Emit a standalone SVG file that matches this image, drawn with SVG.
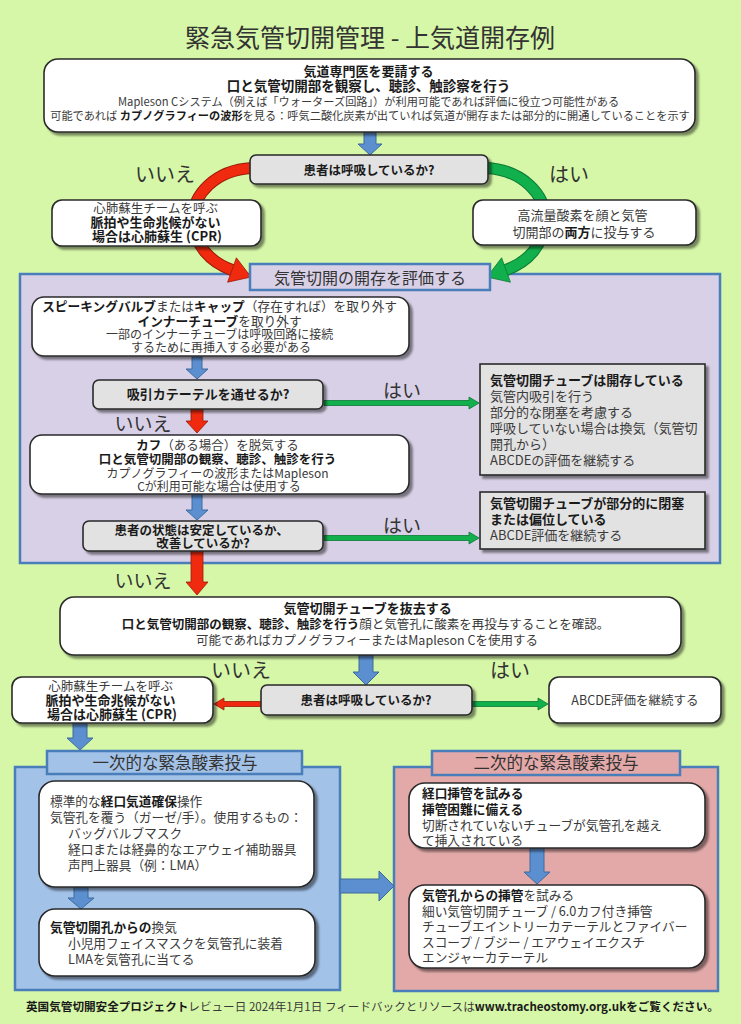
<svg xmlns="http://www.w3.org/2000/svg" width="741" height="1024" viewBox="0 0 741 1024">
<defs>
<filter id="sh" x="-10%" y="-10%" width="130%" height="140%">
<feDropShadow dx="3" dy="3" stdDeviation="1.2" flood-color="#000" flood-opacity="0.45"/>
</filter>
<style>
text{font-family:"Noto Sans CJK JP","Noto Sans",sans-serif;fill:#3a3a3a;font-size:12.7px}
.c{text-anchor:middle}
.b{font-weight:bold;fill:#1a1a1a}
.lbl{font-size:19px;fill:#333}
.box{fill:#fff;stroke:#2a2a2a;stroke-width:1.6;filter:url(#sh)}
.dec{fill:#e2e2e2;stroke:#2a2a2a;stroke-width:1.6;filter:url(#sh)}
.pur{fill:#d8d0e6;stroke:#4a7ebb;stroke-width:2.5}
.blu{fill:#a3c2e8;stroke:#4a7ebb;stroke-width:2.5}
.pnk{fill:#e3a9a9;stroke:#4a7ebb;stroke-width:2.5}
.ba{fill:#5b8fd0;stroke:#3d6a9e;stroke-width:1}
.ra{fill:#f02a0f;stroke:#9a1a08;stroke-width:0.8}
.ga{fill:#12b04c;stroke:#0a7a35;stroke-width:0.8}
</style>
</defs>
<rect x="0" y="0" width="741" height="1024" fill="#d6f7a8"/>
<text x="370" y="47" class="c" style="font-size:25px;fill:#333">緊急気管切開管理 - 上気道開存例</text>

<g id="containers">
<rect class="pur" x="20" y="274" width="700" height="289"/>
<rect class="blu" x="15" y="767" width="325" height="223"/>
<rect class="pnk" x="394" y="767" width="324" height="224"/>
</g>

<g id="connectors">
<polygon class="ba" points="364,132 376,132 376,144 382,144 370,155 358,144 364,144"/>
<path d="M 252 168 C 215 170, 192 195, 193 220 C 194 245, 210 262, 232 270" fill="none" stroke="#9a1a08" stroke-width="12"/>
<path d="M 252 168 C 215 170, 192 195, 193 220 C 194 245, 210 262, 232 270" fill="none" stroke="#f02a0f" stroke-width="10"/>
<polygon class="ra" points="227.6,282.2 236.4,257.8 251,277"/>
<path d="M 486 168 C 523 170, 546 195, 545 220 C 544 245, 528 262, 506 270" fill="none" stroke="#0a7a35" stroke-width="12"/>
<path d="M 486 168 C 523 170, 546 195, 545 220 C 544 245, 528 262, 506 270" fill="none" stroke="#12b04c" stroke-width="10"/>
<polygon class="ga" points="510.4,282.2 501.6,257.8 487,277"/>
<polygon class="ba" points="192,357 202,357 202,369 208,369 197,379 186,369 192,369"/>
<polygon class="ga" points="324,400.5 469,400.5 469,397 479,403 469,409 469,405.5 324,405.5"/>
<polygon class="ra" points="191,409 203,409 203,421 208,421 197,433 186,421 191,421"/>
<polygon class="ba" points="192,494 202,494 202,510 208,510 197,520 186,510 192,510"/>
<polygon class="ga" points="324,535.5 469,535.5 469,532 479,538 469,544 469,540.5 324,540.5"/>
<polygon class="ra" points="191,551 203,551 203,582 208,582 197,595 186,582 191,582"/>
<polygon class="ba" points="359,655 373,655 373,672 379,672 366,685 353,672 359,672"/>
<polygon class="ra" points="261,701.5 224,701.5 224,698 214,704 224,710 224,706.5 261,706.5"/>
<polygon class="ga" points="472,701.5 538,701.5 538,698 548,704 538,710 538,706.5 472,706.5"/>
<polygon class="ba" points="73,723 87,723 87,738 93,738 80,750 67,738 73,738"/>
<polygon class="ba" points="74,887 88,887 88,898 94,898 81,909 68,898 74,898"/>
<polygon class="ba" points="530,848 544,848 544,872 550,872 537,884 524,872 530,872"/>
<polygon class="ba" points="340,879 379,879 379,871 394,886 379,901 379,893 340,893"/>
<text x="165" y="182" class="c lbl" style="font-size:20px">いいえ</text>
<text x="569" y="182" class="c lbl" style="font-size:20px">はい</text>
<text x="402" y="398" class="c lbl">はい</text>
<text x="143" y="431" class="c lbl">いいえ</text>
<text x="402" y="533" class="c lbl">はい</text>
<text x="143" y="588" class="c lbl">いいえ</text>
<text x="241" y="678" class="c lbl" style="font-size:20px">いいえ</text>
<text x="510" y="678" class="c lbl" style="font-size:20px">はい</text>
</g>

<g id="n-top">
<rect class="box" x="44" y="59" width="651" height="73" rx="14"/>
<text class="c">
<tspan x="370" y="76" class="b" style="font-size:13px">気道専門医を要請する</tspan>
<tspan x="370" y="91" class="b" style="font-size:13.5px">口と気管切開部を観察し、聴診、触診察を行う</tspan>
<tspan x="370" y="106" style="font-size:11.2px">Mapleson Cシステム（例えば「ウォーターズ回路」）が利用可能であれば評価に役立つ可能性がある</tspan>
<tspan x="370" y="120" style="font-size:11.2px">可能であれば <tspan class="b">カプノグラフィーの波形</tspan>を見る：呼気二酸化炭素が出ていれば気道が開存または部分的に開通していることを示す</tspan>
</text>
</g>

<g id="n-breathing1">
<rect class="dec" x="250" y="155" width="238" height="29" rx="6"/>
<text x="369" y="175" class="c b" style="font-size:12.5px">患者は呼吸しているか?</text>
</g>

<g id="n-cpr1">
<rect class="box" x="52" y="200" width="209" height="46" rx="10"/>
<text class="c">
<tspan x="157" y="213" style="font-size:12.5px">心肺蘇生チームを呼ぶ</tspan>
<tspan x="157" y="227" class="b" style="font-size:13px">脈拍や生命兆候がない</tspan>
<tspan x="157" y="241" class="b" style="font-size:13px">場合は心肺蘇生 (CPR)</tspan>
</text>
</g>

<g id="n-oxygen">
<rect class="box" x="473" y="200" width="223" height="45" rx="10"/>
<text class="c" style="font-size:13px">
<tspan x="584" y="220">高流量酸素を顔と気管</tspan>
<tspan x="584" y="237">切開部の<tspan class="b">両方</tspan>に投与する</tspan>
</text>
</g>

<g id="n-assess-label">
<rect class="pur" x="250" y="264" width="240" height="26"/>
<text x="370" y="284" class="c" style="font-size:16px;fill:#333">気管切開の開存を評価する</text>
</g>

<g id="n-remove">
<rect class="box" x="32" y="297" width="377" height="59" rx="12"/>
<text class="c">
<tspan x="221" y="311"><tspan class="b">スピーキングバルブ</tspan>または<tspan class="b">キャップ</tspan>（存在すれば）を取り外す</tspan>
<tspan x="221" y="326"><tspan class="b">インナーチューブ</tspan>を取り外す</tspan>
<tspan x="221" y="339" style="font-size:12px">一部のインナーチューブは呼吸回路に接続</tspan>
<tspan x="221" y="352" style="font-size:12px">するために再挿入する必要がある</tspan>
</text>
</g>

<g id="n-suction">
<rect class="dec" x="93" y="380" width="230" height="29" rx="6"/>
<text x="208" y="399" class="c b" style="font-size:13px">吸引カテーテルを通せるか?</text>
</g>

<g id="n-cuff">
<rect class="box" x="30" y="435" width="379" height="59" rx="12"/>
<text class="c">
<tspan x="219" y="450" style="font-size:12.5px"><tspan class="b">カフ</tspan>（ある場合）を脱気する</tspan>
<tspan x="219" y="464" class="b" style="font-size:12.5px">口と気管切開部の観察、聴診、触診を行う</tspan>
<tspan x="219" y="478" style="font-size:12px">カプノグラフィーの波形またはMapleson</tspan>
<tspan x="219" y="491" style="font-size:12px">Cが利用可能な場合は使用する</tspan>
</text>
</g>

<g id="n-stable">
<rect class="dec" x="83" y="521" width="240" height="30" rx="6"/>
<text class="c b" style="font-size:12.5px">
<tspan x="203" y="535">患者の状態は安定しているか、</tspan>
<tspan x="203" y="548">改善しているか?</tspan>
</text>
</g>

<g id="n-patent">
<rect class="dec" x="480" y="364" width="225" height="111" rx="0"/>
<text style="font-size:13px">
<tspan x="490" y="385" class="b">気管切開チューブは開存している</tspan>
<tspan x="490" y="401">気管内吸引を行う</tspan>
<tspan x="490" y="417">部分的な閉塞を考慮する</tspan>
<tspan x="490" y="433">呼吸していない場合は換気（気管切</tspan>
<tspan x="490" y="449">開孔から）</tspan>
<tspan x="490" y="465">ABCDEの評価を継続する</tspan>
</text>
</g>

<g id="n-partial">
<rect class="dec" x="480" y="492" width="225" height="57" rx="0"/>
<text style="font-size:13px">
<tspan x="490" y="508" class="b">気管切開チューブが部分的に閉塞</tspan>
<tspan x="490" y="524" class="b">または偏位している</tspan>
<tspan x="490" y="540">ABCDE評価を継続する</tspan>
</text>
</g>

<g id="n-tubeout">
<rect class="box" x="60" y="597" width="621" height="58" rx="14"/>
<text class="c" style="font-size:12.5px">
<tspan x="369" y="613" class="b" style="font-size:13px">気管切開チューブを抜去する</tspan>
<tspan x="367" y="629"><tspan class="b">口と気管切開部の観察、聴診、触診を行う</tspan>顔と気管孔に酸素を再投与することを確認。</tspan>
<tspan x="367" y="645">可能であればカプノグラフィーまたはMapleson Cを使用する</tspan>
</text>
</g>

<g id="n-breathing2">
<rect class="dec" x="261" y="685" width="211" height="30" rx="6"/>
<text x="366" y="705" class="c b" style="font-size:12.5px">患者は呼吸しているか?</text>
</g>

<g id="n-cpr2">
<rect class="box" x="12" y="677" width="201" height="46" rx="10"/>
<text class="c">
<tspan x="112" y="691" style="font-size:12.5px">心肺蘇生チームを呼ぶ</tspan>
<tspan x="112" y="705" class="b" style="font-size:13px">脈拍や生命兆候がない</tspan>
<tspan x="112" y="719" class="b" style="font-size:13px">場合は心肺蘇生 (CPR)</tspan>
</text>
</g>

<g id="n-abcde">
<rect class="box" x="549" y="677" width="172" height="46" rx="10"/>
<text x="635" y="705" class="c" style="font-size:12.5px">ABCDE評価を継続する</text>
</g>

<g id="n-primary-label">
<rect class="blu" x="47" y="751" width="255" height="23"/>
<text x="175" y="769" class="c" style="font-size:16.5px;fill:#333">一次的な緊急酸素投与</text>
</g>

<g id="n-primary1">
<rect class="box" x="39" y="781" width="275" height="106" rx="16"/>
<text>
<tspan x="50" y="806">標準的な<tspan class="b">経口気道確保</tspan>操作</tspan>
<tspan x="50" y="822">気管孔を覆う（ガーゼ/手）。使用するもの：</tspan>
<tspan x="68" y="838">バッグバルブマスク</tspan>
<tspan x="68" y="854">経口または経鼻的なエアウェイ補助器具</tspan>
<tspan x="68" y="870">声門上器具（例：LMA）</tspan>
</text>
</g>

<g id="n-primary2">
<rect class="box" x="39" y="909" width="276" height="67" rx="16"/>
<text>
<tspan x="50" y="932"><tspan class="b">気管切開孔からの</tspan>換気</tspan>
<tspan x="68" y="948">小児用フェイスマスクを気管孔に装着</tspan>
<tspan x="68" y="964">LMAを気管孔に当てる</tspan>
</text>
</g>

<g id="n-secondary-label">
<rect class="pnk" x="432" y="751" width="248" height="24"/>
<text x="556" y="769" class="c" style="font-size:16.5px;fill:#333">二次的な緊急酸素投与</text>
</g>

<g id="n-secondary1">
<rect class="box" x="409" y="783" width="296" height="65" rx="16"/>
<text>
<tspan x="422" y="798" class="b">経口挿管を試みる</tspan>
<tspan x="422" y="814" class="b">挿管困難に備える</tspan>
<tspan x="422" y="830">切断されていないチューブが気管孔を越え</tspan>
<tspan x="422" y="845">て挿入されている</tspan>
</text>
</g>

<g id="n-secondary2">
<rect class="box" x="409" y="885" width="296" height="83" rx="16"/>
<text>
<tspan x="422" y="900"><tspan class="b">気管孔からの挿管</tspan>を試みる</tspan>
<tspan x="422" y="916">細い気管切開チューブ / 6.0カフ付き挿管</tspan>
<tspan x="422" y="931">チューブエイントリーカテーテルとファイバー</tspan>
<tspan x="422" y="947">スコープ / ブジー / エアウェイエクスチ</tspan>
<tspan x="422" y="962">エンジャーカテーテル</tspan>
</text>
</g>

<text x="26" y="1011" style="font-size:11.6px"><tspan class="b">英国気管切開安全プロジェクト</tspan>レビュー日 2024年1月1日 フィードバックとリソースは<tspan class="b">www.tracheostomy.org.uk</tspan><tspan class="b">をご覧ください。</tspan></text>
</svg>
